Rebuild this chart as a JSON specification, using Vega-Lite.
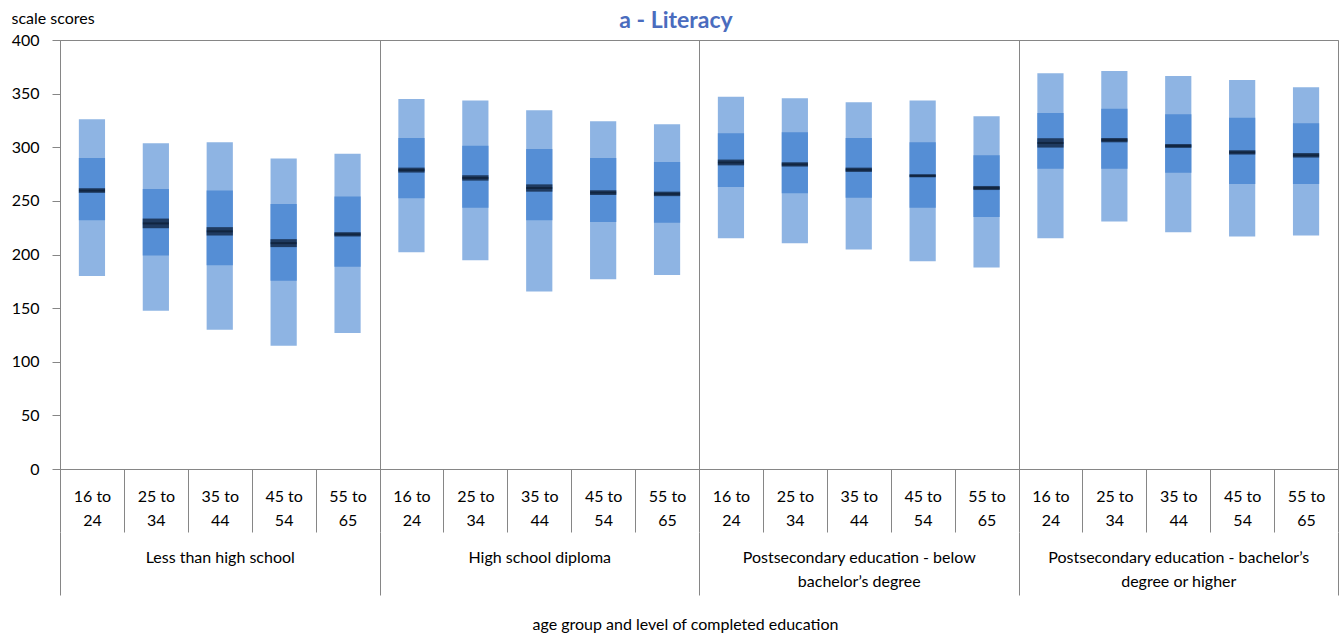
{
  "$schema": "https://vega.github.io/schema/vega-lite/v6.json",
  "width": 1278,
  "height": 429,
  "autosize": "none",
  "padding": {"left": 60, "top": 40, "right": 1, "bottom": 166},
  "background": "white",
  "config": {
    "view": {"stroke": "#868686", "strokeWidth": 1},
    "font": "Lato",
    "axis": {"labelFont": "Lato", "titleFont": "Lato", "labelColor": "#000000", "titleColor": "#000000"}
  },
  "title": {
    "text": "a - Literacy",
    "color": "#4A6CBE",
    "fontSize": 23,
    "fontWeight": "bold",
    "font": "Lato",
    "anchor": "middle",
    "frame": "group",
    "dx": -23,
    "offset": -41,
    "baseline": "alphabetic"
  },
  "data": {
    "values": [
      {"group": "Less than high school", "key": "01 16 to 24", "p5": 180, "p25": 232, "p75": 290, "p95": 326, "mean": 259.6, "mlo": 257.5, "mhi": 261.8},
      {"group": "Less than high school", "key": "02 25 to 34", "p5": 147.5, "p25": 199, "p75": 261, "p95": 303.7, "mean": 229, "mlo": 224.5, "mhi": 233.5},
      {"group": "Less than high school", "key": "03 35 to 44", "p5": 129.8, "p25": 190, "p75": 259.6, "p95": 304.6, "mean": 221.6, "mlo": 217.7, "mhi": 225.5},
      {"group": "Less than high school", "key": "04 45 to 54", "p5": 115, "p25": 175.5, "p75": 247.2, "p95": 289.4, "mean": 210.6, "mlo": 206.9, "mhi": 214.3},
      {"group": "Less than high school", "key": "05 55 to 65", "p5": 126.8, "p25": 188.5, "p75": 254, "p95": 294, "mean": 218.8, "mlo": 216.8, "mhi": 220.8},
      {"group": "High school diploma", "key": "06 16 to 24", "p5": 202.2, "p25": 252.5, "p75": 308.7, "p95": 345, "mean": 278.7, "mlo": 276.4, "mhi": 281},
      {"group": "High school diploma", "key": "07 25 to 34", "p5": 194.7, "p25": 243.5, "p75": 301.5, "p95": 343.7, "mean": 271.4, "mlo": 268.9, "mhi": 273.9},
      {"group": "High school diploma", "key": "08 35 to 44", "p5": 165.5, "p25": 232, "p75": 298.4, "p95": 334.4, "mean": 262, "mlo": 258.6, "mhi": 265.4},
      {"group": "High school diploma", "key": "09 45 to 54", "p5": 177, "p25": 230.4, "p75": 290, "p95": 324.2, "mean": 257.7, "mlo": 255.5, "mhi": 259.9},
      {"group": "High school diploma", "key": "10 55 to 65", "p5": 180.8, "p25": 229.5, "p75": 286.3, "p95": 321.4, "mean": 256.5, "mlo": 254.4, "mhi": 258.6},
      {"group": "Postsecondary education - below bachelor’s degree", "key": "11 16 to 24", "p5": 215.2, "p25": 263, "p75": 313, "p95": 347.1, "mean": 285.8, "mlo": 283.1, "mhi": 288.5},
      {"group": "Postsecondary education - below bachelor’s degree", "key": "12 25 to 34", "p5": 210.6, "p25": 257.1, "p75": 314, "p95": 345.6, "mean": 284, "mlo": 282, "mhi": 286},
      {"group": "Postsecondary education - below bachelor’s degree", "key": "13 35 to 44", "p5": 204.6, "p25": 252.8, "p75": 308.7, "p95": 341.9, "mean": 279, "mlo": 277, "mhi": 281},
      {"group": "Postsecondary education - below bachelor’s degree", "key": "14 45 to 54", "p5": 193.8, "p25": 243.5, "p75": 304.6, "p95": 343.7, "mean": 273.4, "mlo": 272, "mhi": 274.8},
      {"group": "Postsecondary education - below bachelor’s degree", "key": "15 55 to 65", "p5": 187.9, "p25": 235, "p75": 292.5, "p95": 328.9, "mean": 262, "mlo": 260.1, "mhi": 263.9},
      {"group": "Postsecondary education - bachelor’s degree or higher", "key": "16 16 to 24", "p5": 215.2, "p25": 280, "p75": 332, "p95": 368.9, "mean": 304, "mlo": 299.7, "mhi": 308.4},
      {"group": "Postsecondary education - bachelor’s degree or higher", "key": "17 25 to 34", "p5": 230.7, "p25": 280, "p75": 336, "p95": 371, "mean": 306.6, "mlo": 304.6, "mhi": 308.6},
      {"group": "Postsecondary education - bachelor’s degree or higher", "key": "18 35 to 44", "p5": 220.8, "p25": 276.3, "p75": 330.7, "p95": 366.4, "mean": 301.2, "mlo": 299.4, "mhi": 303},
      {"group": "Postsecondary education - bachelor’s degree or higher", "key": "19 45 to 54", "p5": 216.7, "p25": 265.8, "p75": 327.6, "p95": 362.7, "mean": 295.2, "mlo": 293.2, "mhi": 297.2},
      {"group": "Postsecondary education - bachelor’s degree or higher", "key": "20 55 to 65", "p5": 217.7, "p25": 265.8, "p75": 322.3, "p95": 355.9, "mean": 292.5, "mlo": 290.4, "mhi": 294.6}
    ]
  },
  "layer": [
    {
      "encoding": {
        "x": {
          "field": "key",
          "type": "ordinal",
          "scale": {"type": "band", "paddingInner": 0, "paddingOuter": 0},
          "axis": {
            "title": null,
            "orient": "bottom",
            "domain": true,
            "domainColor": "#868686",
            "ticks": true,
            "tickBand": "extent",
            "tickSize": 63,
            "tickColor": "#868686",
            "labelPadding": -44,
            "labelFontSize": 16,
            "labelLineHeight": 24,
            "labelAngle": 0,
            "labelBaseline": "top",
            "labelExpr": "isString(datum.value) ? [slice(datum.value, -8, -3), slice(datum.value, -2)] : ''"
          }
        }
      },
      "layer": [
        {
          "mark": {"type": "bar", "color": "#8EB4E3", "width": {"band": 0.41}},
          "encoding": {
            "y": {
              "field": "p5",
              "type": "quantitative",
              "scale": {"domain": [0, 400], "nice": false},
              "axis": {
                "title": "scale scores",
                "titleAngle": 0,
                "titleAlign": "left",
                "titleBaseline": "alphabetic",
                "titleX": -49,
                "titleY": -17,
                "titleFontSize": 16,
                "titleFontWeight": "normal",
                "values": [0, 50, 100, 150, 200, 250, 300, 350, 400],
                "labelFontSize": 16,
                "labelPadding": 13,
                "tickSize": 8,
                "tickColor": "#868686",
                "domainColor": "#868686",
                "grid": false
              }
            },
            "y2": {"field": "p95"}
          }
        },
        {
          "mark": {"type": "bar", "color": "#558ED5", "width": {"band": 0.41}},
          "encoding": {
            "y": {"field": "p25", "type": "quantitative"},
            "y2": {"field": "p75"}
          }
        },
        {
          "mark": {"type": "bar", "color": "#1F3A5F", "width": {"band": 0.41}},
          "encoding": {
            "y": {"field": "mlo", "type": "quantitative"},
            "y2": {"field": "mhi"}
          }
        },
        {
          "mark": {"type": "tick", "color": "#0C1D33", "thickness": 2, "size": 26},
          "encoding": {
            "y": {"field": "mean", "type": "quantitative"}
          }
        }
      ]
    },
    {
      "mark": {"type": "point", "opacity": 0},
      "encoding": {
        "x": {
          "field": "group",
          "type": "nominal",
          "sort": ["Less than high school", "High school diploma", "Postsecondary education - below bachelor’s degree", "Postsecondary education - bachelor’s degree or higher"],
          "scale": {"type": "band", "paddingInner": 0, "paddingOuter": 0},
          "axis": {
            "orient": "bottom",
            "offset": 63,
            "domain": false,
            "ticks": true,
            "tickBand": "extent",
            "tickSize": 63,
            "tickColor": "#868686",
            "grid": true,
            "gridColor": "#868686",
            "gridWidth": 1,
            "labelPadding": -46,
            "labelFontSize": 16,
            "labelLineHeight": 24,
            "labelAngle": 0,
            "labelBaseline": "top",
            "labelLimit": 400,
            "labelExpr": "!isString(datum.value) ? '' : indexof(datum.value, 'below') > 0 ? ['Postsecondary education - below', 'bachelor’s degree'] : indexof(datum.value, 'higher') > 0 ? ['Postsecondary education - bachelor’s', 'degree or higher'] : datum.value",
            "title": "age group and level of completed education",
            "titleFontSize": 16,
            "titleFontWeight": "normal",
            "titleX": 625,
            "titleY": 92,
            "titleAlign": "center",
            "titleBaseline": "middle"
          }
        },
        "y": {"field": "mean", "type": "quantitative"}
      }
    }
  ],
  "resolve": {"scale": {"x": "independent"}, "axis": {"x": "independent"}}
}
